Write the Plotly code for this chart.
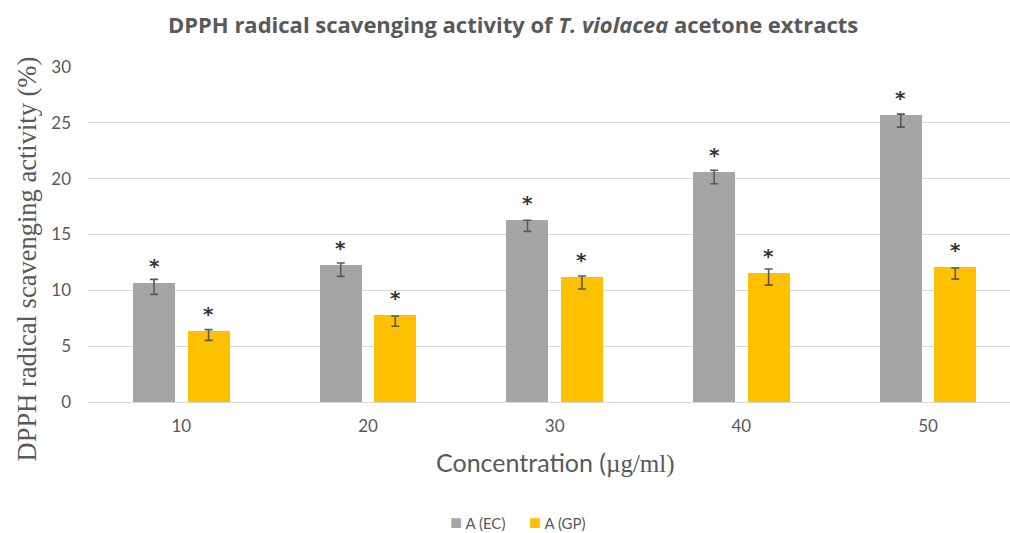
import plotly.graph_objects as go

# Concentrations (µg/ml)
concentrations = ["10", "20", "30", "40", "50"]

# Scavenging activity (%) for each extract
ec_values = [10.63, 12.30, 16.33, 20.59, 25.67]
gp_values = [6.36, 7.79, 11.16, 11.55, 12.09]

# Error bar centres and half-widths
ec_err_center = [10.31, 11.85, 15.78, 20.15, 25.20]
ec_err = [0.67, 0.60, 0.50, 0.60, 0.58]
gp_err_center = [6.00, 7.24, 10.70, 11.19, 11.50]
gp_err = [0.48, 0.46, 0.58, 0.72, 0.50]

series_names = ["A (EC)", "A (GP)"]

GREY = "#a5a5a5"
GOLD = "#ffc000"
TEXT = "#595959"
GRID = "#d9d9d9"
SANS = "Lato, 'Open Sans', sans-serif"
SERIF = "'Liberation Serif', 'DejaVu Serif', serif"

pos = list(range(len(concentrations)))
off = 0.146
bar_w = 0.225
ec_x = [p - off for p in pos]
gp_x = [p + off for p in pos]

fig = go.Figure()
fig.add_trace(go.Bar(x=ec_x, y=ec_values, width=bar_w, name=series_names[0],
                     marker=dict(color=GREY, line=dict(width=0))))
fig.add_trace(go.Bar(x=gp_x, y=gp_values, width=bar_w, name=series_names[1],
                     marker=dict(color=GOLD, line=dict(width=0))))

# Error bars
for xs, ys, es in [(ec_x, ec_err_center, ec_err), (gp_x, gp_err_center, gp_err)]:
    fig.add_trace(go.Scatter(
        x=xs, y=ys, mode="markers", showlegend=False, hoverinfo="skip",
        marker=dict(size=0.1, color="rgba(0,0,0,0)"),
        error_y=dict(type="data", array=es, visible=True,
                     color="#595959", thickness=1.6, width=4),
    ))

# Significance markers above each bar
for xs, ys in [(ec_x, ec_values), (gp_x, gp_values)]:
    for x, y in zip(xs, ys):
        fig.add_annotation(x=x, y=y, text="<b>*</b>", showarrow=False,
                           yanchor="bottom", yshift=3,
                           font=dict(family="'DejaVu Sans', sans-serif",
                                     size=20, color="#333333"))

# Axis titles
fig.add_annotation(xref="paper", yref="paper", x=0, y=0.5, xshift=-62, yshift=-25,
                   xanchor="center", yanchor="middle",
                   text="DPPH radical scavenging activity (%)",
                   textangle=-90, showarrow=False,
                   font=dict(family=SERIF, size=26.5, color=TEXT))
fig.add_annotation(
    xref="paper", yref="paper", x=0.507, y=0, yshift=-60,
    xanchor="center", yanchor="middle",
    text="Concentration (<span style='font-family:Liberation Serif'>µg/ml)</span>",
    showarrow=False, font=dict(family=SANS, size=25, color=TEXT))

# Legend keys
for name, color, xc in [(series_names[0], GREY, 477), (series_names[1], GOLD, 557)]:
    fig.add_annotation(xref="paper", yref="paper", x=(xc - 88) / 922, y=0,
                       yshift=-119, xanchor="center", yanchor="middle",
                       showarrow=False,
                       text=f"<span style='color:{color};font-size:20px'>■</span> {name}",
                       font=dict(family=SANS, size=15, color=TEXT))

fig.update_layout(
    width=1010, height=533,
    margin=dict(l=88, r=0, t=67, b=131),
    paper_bgcolor="white", plot_bgcolor="white",
    title=dict(text="<b>DPPH radical scavenging activity of <i>T. violacea</i> acetone extracts</b>",
               x=0.508, xanchor="center", y=0.953, yanchor="middle",
               font=dict(family="'Open Sans', sans-serif", size=22, color=TEXT)),
    showlegend=False,
    bargap=0, barmode="overlay",
)
fig.update_xaxes(range=[-0.5, 4.439], tickvals=pos, ticktext=concentrations,
                 showgrid=False, zeroline=False, showline=False, ticks="",
                 tickfont=dict(family=SANS, size=17, color=TEXT), ticklabelstandoff=12)
fig.update_yaxes(range=[0, 30], dtick=5, showgrid=True, gridcolor=GRID, gridwidth=1,
                 zeroline=True, zerolinecolor=GRID, zerolinewidth=1,
                 showline=False, ticks="",
                 tickfont=dict(family=SANS, size=17, color=TEXT), ticklabelstandoff=16)

fig.write_html("out.html")
